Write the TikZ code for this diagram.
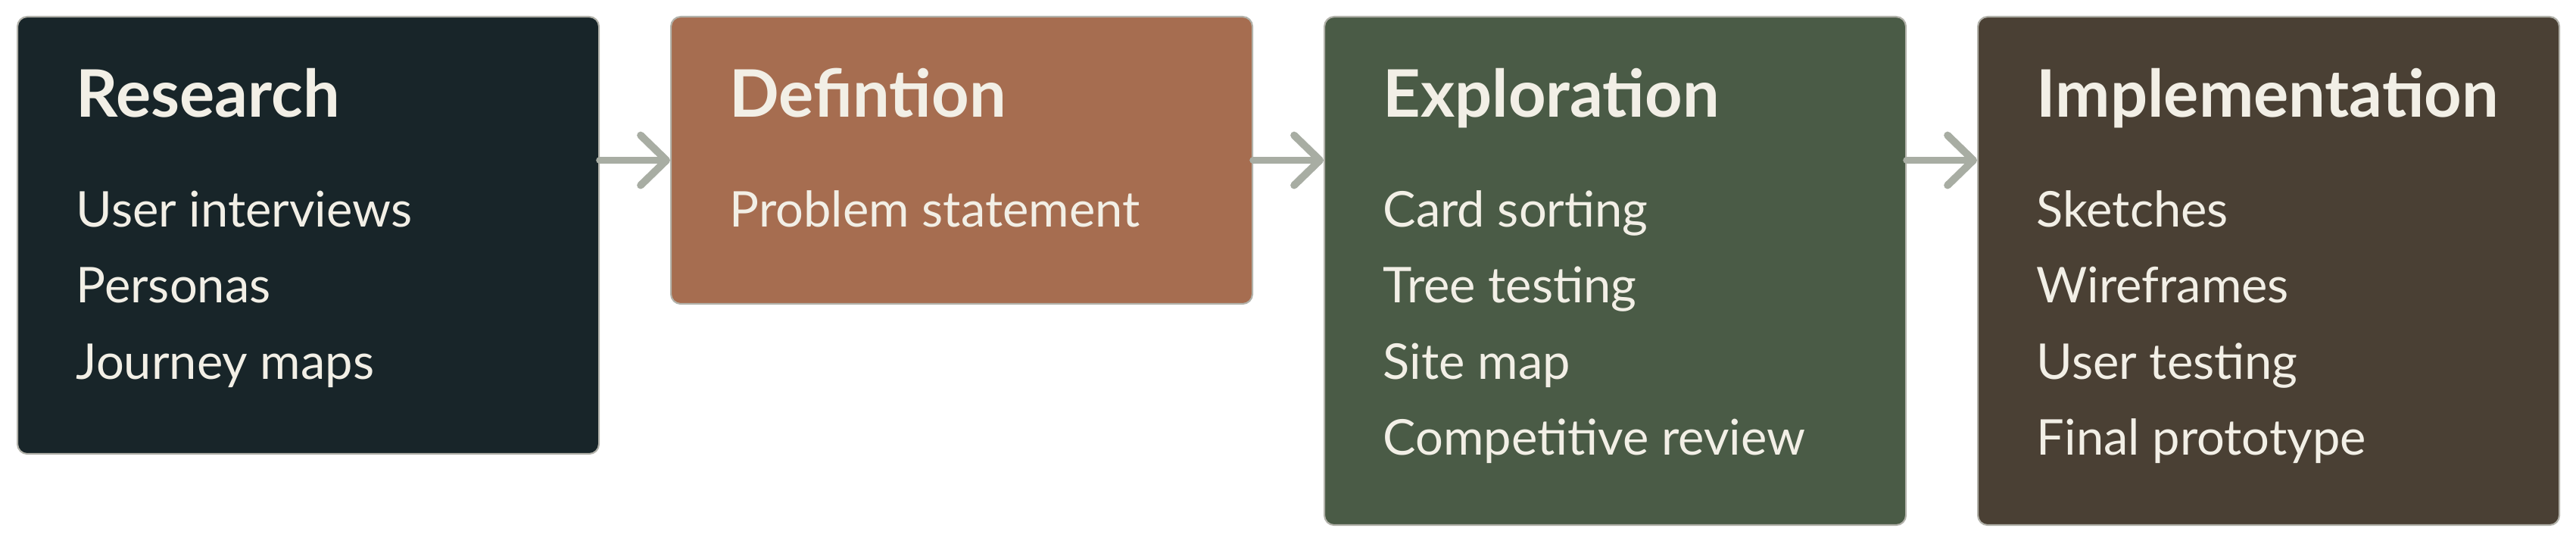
\documentclass[tikz,border=0pt]{standalone}
\usepackage{fontspec}
\setmainfont{Lato}
\usetikzlibrary{positioning,calc,arrows.meta}
\definecolor{darkslate}{RGB}{24,37,41}
\definecolor{clay}{RGB}{166,109,80}
\definecolor{moss}{RGB}{74,91,70}
\definecolor{umber}{RGB}{74,64,52}
\definecolor{cream}{RGB}{242,239,230}
\definecolor{sage}{RGB}{168,173,163}
\definecolor{rim}{RGB}{178,178,170}

\begin{document}
\begin{tikzpicture}[
    stage/.style={draw=rim, line width=0.6pt, rounded corners=3.7pt, minimum width=7.68cm, anchor=north west, inner sep=0pt},
    heading/.style={anchor=base west, text=cream, inner sep=0pt, font=\fontsize{24.6}{29}\selectfont\bfseries},
    item/.style={anchor=base west, text=cream, inner sep=0pt, font=\fontsize{18.5}{22}\selectfont},
    flow/.style={draw=sage, line width=2.8pt, line cap=round, -{Straight Barb[length=3.4mm, width=6.6mm, line cap=round, line join=round]}}
]
    \useasboundingbox[fill=white] (0,0) rectangle (34.02,-7.14);
    % stages
    \node[stage, fill=darkslate, minimum height=5.77cm] (research) at (0.22,-0.21) {};
    \node[stage, fill=clay, minimum height=3.79cm] (defin) at (8.85,-0.21) {};
    \node[stage, fill=moss, minimum height=6.71cm] (explor) at (17.48,-0.21) {};
    \node[stage, fill=umber, minimum height=6.71cm] (impl) at (26.11,-0.21) {};
    % titles
    \node[heading] (researchtitle) at ($(research.north west)+(0.78,-1.34)$) {Research};
    \node[heading] (defintitle) at ($(defin.north west)+(0.78,-1.34)$) {Defintion};
    \node[heading] (explortitle) at ($(explor.north west)+(0.78,-1.34)$) {Exploration};
    \node[heading] (impltitle) at ($(impl.north west)+(0.78,-1.34)$) {Implementation};
    % items
    \foreach \txt [count=\i] in {User interviews, Personas, Journey maps}
        \node[item] (research\i) at ($(research.north west)+(0.78,-1.78-1.005*\i)$) {\txt};
    \foreach \txt [count=\i] in {Problem statement}
        \node[item] (defin\i) at ($(defin.north west)+(0.78,-1.78-1.005*\i)$) {\txt};
    \foreach \txt [count=\i] in {Card sorting, Tree testing, Site map, Competitive review}
        \node[item] (explor\i) at ($(explor.north west)+(0.78,-1.78-1.005*\i)$) {\txt};
    \foreach \txt [count=\i] in {Sketches, Wireframes, User testing, Final prototype}
        \node[item] (impl\i) at ($(impl.north west)+(0.78,-1.78-1.005*\i)$) {\txt};
    % arrows
    \draw[flow] (research.east |- defin.west) -- (defin.west);
    \draw[flow] (defin.east) -- (explor.west |- defin.east);
    \draw[flow] (explor.east |- defin.east) -- (impl.west |- defin.east);
\end{tikzpicture}
\end{document}
